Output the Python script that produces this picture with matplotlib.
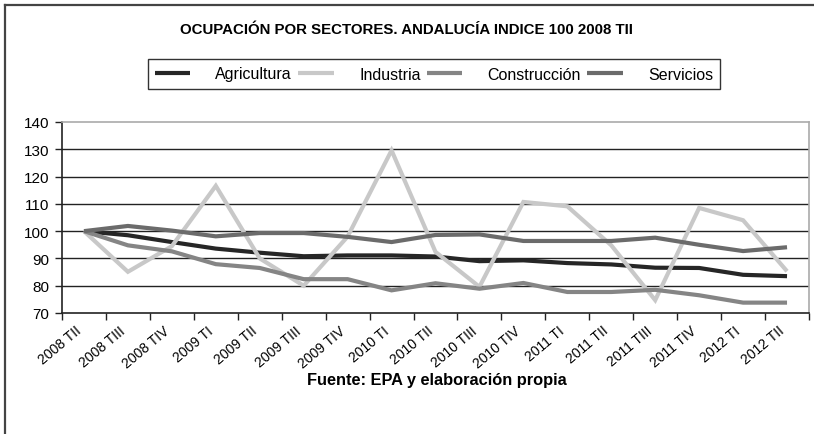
import matplotlib
matplotlib.use("Agg")
import matplotlib.pyplot as plt
from matplotlib.lines import Line2D
from matplotlib.ticker import FixedLocator, NullFormatter
from matplotlib.transforms import ScaledTranslation, blended_transform_factory

plt.rcParams['font.family'] = ['Liberation Sans', 'DejaVu Sans']

categories = ["2008 TII", "2008 TIII", "2008 TIV", "2009 TI", "2009 TII", "2009 TIII", "2009 TIV",
              "2010 TI", "2010 TII", "2010 TIII", "2010 TIV", "2011 TI", "2011 TII", "2011 TIII",
              "2011 TIV", "2012 TI", "2012 TII"]
agricultura = [100, 98.5, 96.0, 93.6, 92.1, 90.8, 91.1, 91.1, 90.7, 89.0, 89.3, 88.3, 87.8, 86.6, 86.5, 84.0, 83.5]
industria = [100, 85.1, 94.5, 116.6, 90.0, 80.0, 98.0, 129.6, 92.4, 79.6, 110.7, 109.1, 94.8, 74.7, 108.5, 104.0, 85.3]
construccion = [100, 94.8, 92.6, 87.9, 86.5, 82.4, 82.4, 78.3, 80.9, 78.9, 81.0, 77.7, 77.7, 78.5, 76.5, 73.8, 73.8]
servicios = [100, 101.9, 100.2, 98.1, 99.3, 99.3, 97.9, 96.0, 98.6, 98.8, 96.4, 96.4, 96.4, 97.6, 95.0, 92.7, 94.1]
series_names = ["Agricultura", "Industria", "Construcción", "Servicios"]
series_colors = ["#262626", "#c8c8c8", "#858585", "#6b6b6b"]
yticks = [70, 80, 90, 100, 110, 120, 130, 140]

fig = plt.figure(figsize=(8.14, 4.35), dpi=100)
ax = fig.add_axes([62/814, 1-314/435, (809-62)/814, (314-123)/435])

x = list(range(len(categories)))
for vals, name, col in zip([agricultura, industria, construccion, servicios], series_names, series_colors):
    ax.plot(x, vals, color=col, lw=3.0, label=name, solid_capstyle='butt', solid_joinstyle='miter')

ax.set_xlim(-0.5, len(categories) - 0.5)
ax.set_ylim(70, 140)
ax.set_yticks(yticks)
ax.set_yticklabels([str(v) for v in yticks], fontsize=11)
for v in yticks[1:-1]:
    ax.axhline(v, color="#222222", lw=1.0, zorder=0)

ax.xaxis.set_major_locator(FixedLocator([i - 0.5 for i in range(len(categories) + 1)]))
ax.xaxis.set_major_formatter(NullFormatter())
ax.tick_params(axis='x', which='major', length=5, width=1, color="#222222", direction='out')
ax.tick_params(axis='y', length=5, width=1, color="#222222", pad=4)

base = blended_transform_factory(ax.transData, ax.transAxes)
off = ScaledTranslation(-9/100, -10/100, fig.dpi_scale_trans)
for i, lab in zip(x, categories):
    ax.text(i, 0, lab, transform=base + off, rotation=40, ha='right', va='top',
            rotation_mode='anchor', fontsize=10, clip_on=False)

for s in ['left', 'bottom']:
    ax.spines[s].set_color("#222222")
    ax.spines[s].set_linewidth(1.2)
for s in ['top', 'right']:
    ax.spines[s].set_color("#aaaaaa")
    ax.spines[s].set_linewidth(1.2)

fig.text(0.499, 1-30/435, "OCUPACIÓN POR SECTORES. ANDALUCÍA INDICE 100 2008 TII",
         ha='center', va='center', fontsize=10.8, fontweight='bold')
fig.text(0.537, 1-381/435, "Fuente: EPA y elaboración propia",
         ha='center', va='center', fontsize=11.8, fontweight='bold')

leg = fig.legend(loc='center', bbox_to_anchor=(434/814, 1-75/435), ncol=4,
                 frameon=True, fancybox=False, edgecolor='black', fontsize=11.5,
                 handlelength=2.2, handletextpad=1.6, columnspacing=0.4,
                 borderpad=0.45)
leg.get_frame().set_linewidth(1.0)

fig.add_artist(Line2D([5/814, 5/814], [0, 1-6/435], transform=fig.transFigure, color="#444444", lw=1.6))
fig.add_artist(Line2D([5/814, 1], [1-6/435, 1-6/435], transform=fig.transFigure, color="#444444", lw=1.6))

fig.savefig("out.png", dpi=100)
